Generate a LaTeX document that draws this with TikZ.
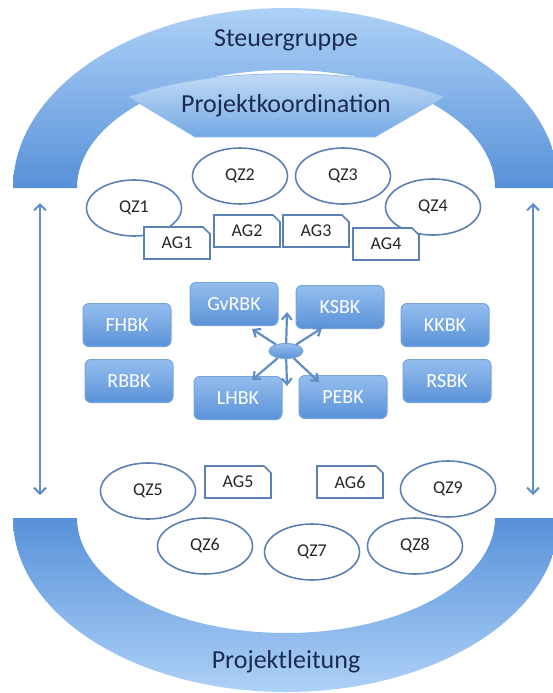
\documentclass[tikz,border=0pt]{standalone}
\usepackage{fontspec}
\setmainfont{Carlito}
\usetikzlibrary{arrows.meta, shapes.geometric, shapes.misc, positioning}
\definecolor{arc-light}{HTML}{AED1F7}
\definecolor{arc-dark}{HTML}{5791D9}
\definecolor{pk-light}{HTML}{CBE1F8}
\definecolor{pk-dark}{HTML}{74A8E4}
\definecolor{box-top}{HTML}{95BEEE}
\definecolor{box-bottom}{HTML}{5A92D8}
\definecolor{box-border}{HTML}{76A5DE}
\definecolor{ring-border}{HTML}{5B80B4}
\definecolor{link}{HTML}{5F8DC8}
\definecolor{title-text}{HTML}{1C2B4F}
\definecolor{label-text}{HTML}{262626}
\tikzset{
  title-label/.style={text=title-text, font=\fontsize{26}{30}\selectfont},
  qz-node/.style={
    draw=ring-border, line width=1.6pt, fill=white, ellipse,
    minimum width=95pt, minimum height=56pt, inner sep=0pt,
    text=label-text, font=\fontsize{18}{20}\selectfont
  },
  ag-node/.style={
    draw=ring-border, line width=1.6pt, fill=white, chamfered rectangle,
    chamfered rectangle corners=north east, chamfered rectangle xsep=3.5pt,
    chamfered rectangle ysep=3.5pt, minimum width=66pt, minimum height=32pt,
    inner sep=0pt, text=label-text, font=\fontsize{18}{20}\selectfont
  },
  bk-node/.style={
    draw=box-border, line width=1pt, top color=box-top, bottom color=box-bottom,
    rounded corners=6pt, minimum width=88pt, minimum height=43pt,
    text=white, font=\fontsize{20}{22}\selectfont
  },
  hub-node/.style={
    draw=box-border, line width=1pt, ellipse, top color=box-top,
    bottom color=box-bottom, minimum width=34pt, minimum height=15pt, inner sep=0pt
  },
  hub-edge/.style={-{Straight Barb[length=6pt, width=10pt]}, line width=2.2pt, draw=link},
  side-edge/.style={{Straight Barb[length=6pt, width=12pt]}-{Straight Barb[length=6pt, width=12pt]},
    line width=2pt, draw=link}
}

\begin{document}
\begin{tikzpicture}[x=1pt, y=-1pt]
  \useasboundingbox (0,0) rectangle (552,693);

  % upper and lower arcs
  \shade[top color=arc-light, bottom color=arc-dark]
    (13,188) arc[start angle=180, end angle=360, x radius=273, y radius=180]
    -- (495,188) arc[start angle=0, end angle=-180, x radius=209, y radius=118]
    -- cycle;
  \shade[top color=arc-dark, bottom color=arc-light]
    (13,518) arc[start angle=180, end angle=0, x radius=273, y radius=174]
    -- (495,518) arc[start angle=0, end angle=180, x radius=209, y radius=115]
    -- cycle;
  \shade[top color=pk-light, bottom color=pk-dark, draw=box-top, line width=0.8pt]
    (129,97) .. controls (205,66) and (367,66) .. (444,97)
    -- (375,137) -- (195,137) -- cycle;

  \node[title-label] (steuer) at (286,40)  {Steuergruppe};
  \node[title-label] (koord)  at (286,106) {Projektkoordination};
  \node[title-label] (leit)   at (286,662) {Projektleitung};

  % side arrows
  \coordinate (left-top)  at (40,203);
  \coordinate (left-bot)  at (40,495);
  \coordinate (right-top) at (533,203);
  \coordinate (right-bot) at (533,495);
  \draw[side-edge] (left-top) -- (left-bot);
  \draw[side-edge] (right-top) -- (right-bot);

  % upper circles and groups
  \node[qz-node] (qz1) at (134,208) {QZ1};
  \node[qz-node] (qz2) at (240,176) {QZ2};
  \node[qz-node] (qz3) at (343,176) {QZ3};
  \node[qz-node] (qz4) at (433,207) {QZ4};
  \node[ag-node] (ag1) at (177,243) {AG1};
  \node[ag-node] (ag2) at (247,231) {AG2};
  \node[ag-node] (ag3) at (316,231) {AG3};
  \node[ag-node] (ag4) at (386,244) {AG4};

  % boxes
  \node[bk-node] (fhbk)  at (127,325) {FHBK};
  \node[bk-node] (rbbk)  at (129,381) {RBBK};
  \node[bk-node] (gvrbk) at (234,304) {GvRBK};
  \node[bk-node] (ksbk)  at (340,307) {KSBK};
  \node[bk-node] (lhbk)  at (238,398) {LHBK};
  \node[bk-node] (pebk)  at (343,397) {PEBK};
  \node[bk-node] (kkbk)  at (445,325) {KKBK};
  \node[bk-node] (rsbk)  at (447,381) {RSBK};

  \node[hub-node] (hub) at (286,351) {};
  \coordinate (hub-n)  at (287,312);
  \coordinate (hub-nw) at (252,329);
  \coordinate (hub-ne) at (322,328);
  \coordinate (hub-sw) at (252,380);
  \coordinate (hub-s)  at (287,386);
  \coordinate (hub-se) at (319,382);
  \foreach \tip in {hub-n, hub-nw, hub-ne, hub-sw, hub-s, hub-se}
    \draw[hub-edge] (hub) -- (\tip);

  % lower circles and groups
  \node[ag-node] (ag5) at (238,482) {AG5};
  \node[ag-node] (ag6) at (350,482) {AG6};
  \node[qz-node] (qz5) at (148,491) {QZ5};
  \node[qz-node] (qz9) at (448,489) {QZ9};
  \node[qz-node] (qz6) at (205,546) {QZ6};
  \node[qz-node] (qz7) at (312,552) {QZ7};
  \node[qz-node] (qz8) at (415,546) {QZ8};
\end{tikzpicture}
\end{document}
